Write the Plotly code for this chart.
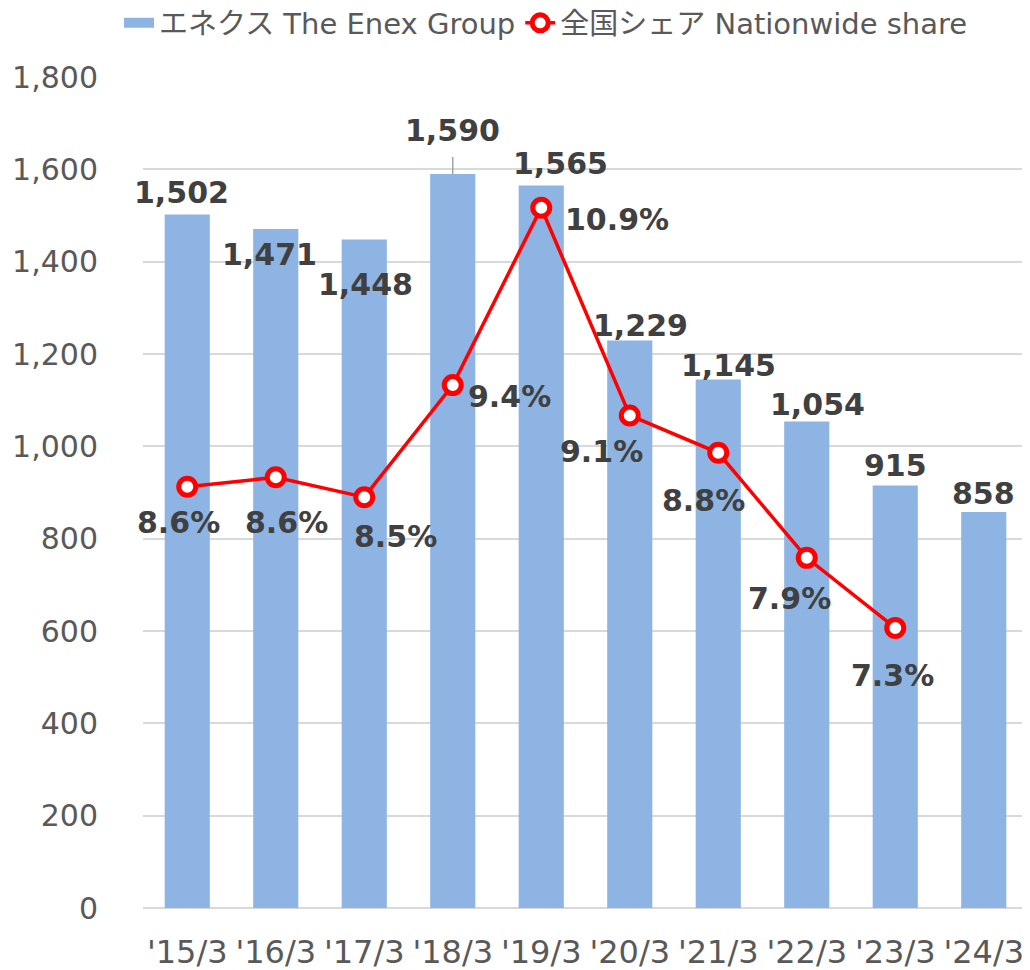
import plotly.graph_objects as go

categories = ["'15/3", "'16/3", "'17/3", "'18/3", "'19/3", "'20/3", "'21/3", "'22/3", "'23/3", "'24/3"]
enex_values = [1502, 1471, 1448, 1590, 1565, 1229, 1145, 1054, 915, 858]
share_categories = categories[:9]
share_values = [8.51, 8.59, 8.42, 9.38, 10.9, 9.12, 8.8, 7.9, 7.3]
share_labels = ["8.6%", "8.6%", "8.5%", "9.4%", "10.9%", "9.1%", "8.8%", "7.9%", "7.3%"]

# label offsets (pixels): x shift, y shift (positive = up)
bar_label_offsets = [(-6, 22), (-6, -26), (1, -45), (0, 43), (19, 22), (11, 15), (10, 14), (11, 17), (0, 20), (0, 18)]
share_label_offsets = [(-9, -36), (11, -45), (31, -39), (57, -11), (76, -12), (-28, -36), (-15, -48), (-17, -41), (-3, -48)]

BLUE = "#8EB4E3"
RED = "#FF0000"
LABEL_COLOR = "#404040"
TICK_COLOR = "#595959"
FONT = "DejaVu Sans, Noto Sans CJK JP"
BAR_NAME = "エネクス The Enex Group"
LINE_NAME = "全国シェア Nationwide share"

fig = go.Figure()
fig.add_trace(go.Bar(
    x=categories, y=enex_values, name=BAR_NAME, showlegend=False,
    marker=dict(color=BLUE, line=dict(width=0)),
))
# legend proxy for the bars (wide rectangle swatch like the reference)
fig.add_trace(go.Scatter(
    x=[None], y=[None], name=BAR_NAME, mode="lines",
    line=dict(color=BLUE, width=17), hoverinfo="skip",
))
fig.add_trace(go.Scatter(
    x=share_categories, y=share_values, name=LINE_NAME,
    yaxis="y2", mode="lines+markers",
    line=dict(color=RED, width=3.5),
    marker=dict(size=17, color="white", line=dict(color=RED, width=5)),
))

annotations = []
for cat, val, (dx, dy) in zip(categories, enex_values, bar_label_offsets):
    annotations.append(dict(
        x=cat, y=val, xref="x", yref="y", text=f"{val:,}", showarrow=False,
        xshift=dx, yshift=dy,
        font=dict(family=FONT, size=30, color=LABEL_COLOR, weight="bold"),
    ))
for cat, val, lab, (dx, dy) in zip(share_categories, share_values, share_labels, share_label_offsets):
    annotations.append(dict(
        x=cat, y=val, xref="x", yref="y2", text=lab, showarrow=False,
        xshift=dx, yshift=dy,
        font=dict(family=FONT, size=30, color=LABEL_COLOR, weight="bold"),
    ))

# leader line for the '18/3 label
shapes = [dict(type="line", xref="x", yref="y", x0=categories[3], x1=categories[3],
               ysizemode="pixel", yanchor=enex_values[3], y0=0, y1=17,
               line=dict(color="#A6A6A6", width=1.5))]

W, H = 1022, 962
fig.update_layout(
    width=W, height=H,
    margin=dict(l=135, r=2, t=69, b=62),
    paper_bgcolor="white", plot_bgcolor="white",
    bargap=0.49,
    font=dict(family=FONT, color=TICK_COLOR),
    showlegend=True,
    legend=dict(orientation="h", xref="container", x=538 / W, xanchor="center",
                yref="container", y=1 - 15 / H, yanchor="middle",
                font=dict(size=29, color=TICK_COLOR, family=FONT),
                itemwidth=30, traceorder="normal"),
    xaxis=dict(showgrid=False, showline=False, automargin=False,
               range=[-0.5, 9.5],
               ticks="outside", ticklen=16, tickcolor="rgba(0,0,0,0)",
               tickfont=dict(size=32, color=TICK_COLOR, family=FONT)),
    yaxis=dict(range=[0, 1800], dtick=200, tickformat=",d", automargin=False,
               showgrid=True, gridcolor="#D9D9D9", gridwidth=1.5,
               zeroline=True, zerolinecolor="#D9D9D9", zerolinewidth=2,
               ticks="outside", ticklen=38, tickcolor="rgba(0,0,0,0)",
               tickfont=dict(size=30, color=TICK_COLOR, family=FONT)),
    yaxis2=dict(range=[4.9, 12.02], overlaying="y", side="right", visible=False),
    annotations=annotations,
    shapes=shapes,
)

fig.write_html("out.html")
